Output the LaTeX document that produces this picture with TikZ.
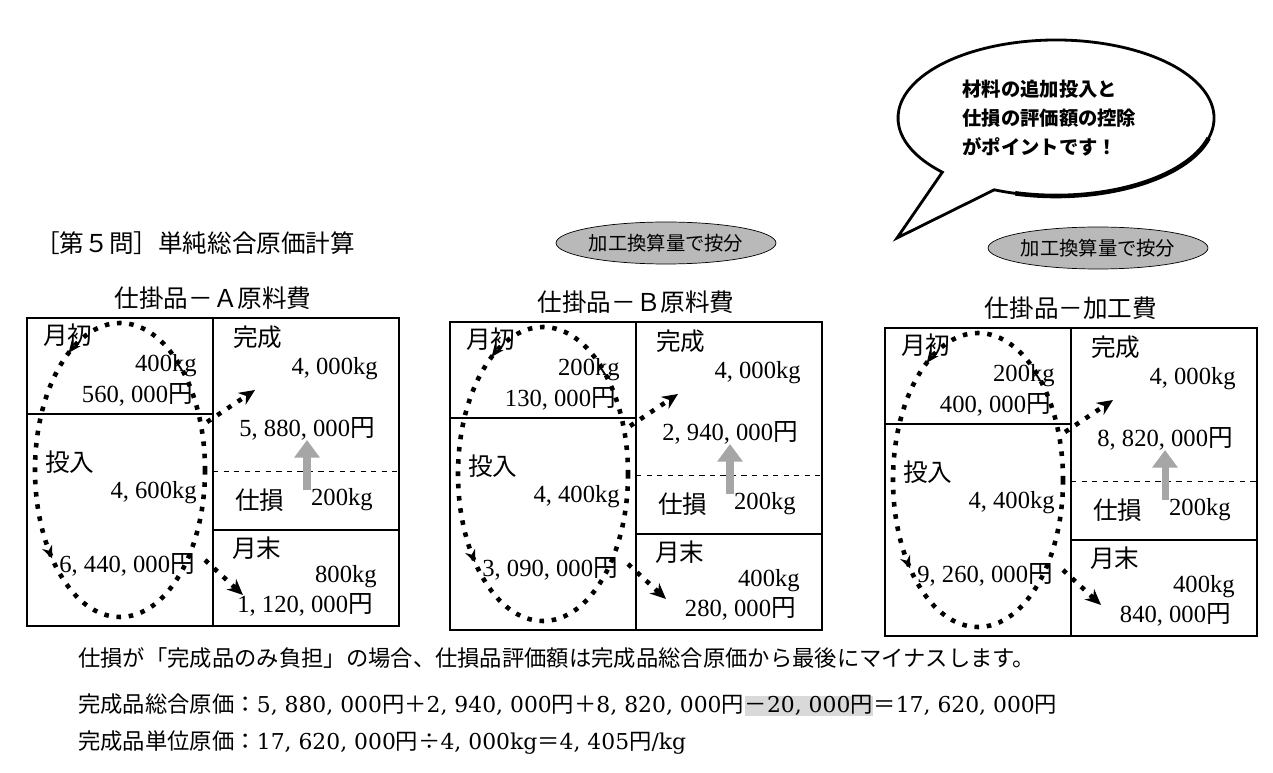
\documentclass[tikz,border=0pt]{standalone}
\usepackage{fontspec}
\setmainfont{Liberation Serif}
\newfontfamily\jp{Noto Sans CJK JP}
\newfontfamily\numfont[Scale=0.98]{DejaVu Serif}
\usetikzlibrary{arrows.meta,decorations.markings,shapes.geometric}

\newcommand\yen{{\jp 円}}
\tikzset{%
  box text/.style={font=\fontsize{14}{16}\selectfont, inner sep=0pt},
  label jp/.style={box text, font=\fontsize{14}{16}\selectfont\jp, anchor=west},
  amount/.style={box text, anchor=east},
  flow/.style={line width=2.6pt, dash pattern=on 2.6pt off 4.4pt},
  flow arrow/.style={flow, -{Stealth[length=9pt,width=8pt]}},
  loss arrow/.style={line width=4pt, gray!70, -{Triangle[length=10pt,width=14pt]}},
  memo/.style={draw, fill=gray!55, ellipse, inner sep=0pt,
    minimum width=4.4cm, minimum height=0.84cm,
    font=\fontsize{11}{12}\selectfont\jp},
  note/.style={inner sep=0pt, font=\fontsize{12.7}{14}\selectfont\numfont}
}
% one work-in-process box, drawn from its top left corner
\newcommand\shikakari[8]{%
  \node[font=\fontsize{14}{16}\selectfont\jp] (title) at (186,-20) {#1};
  \draw[line width=1.1pt] (0,0) rectangle (372,308);
  \draw[line width=0.9pt] (186,0) -- (186,308)
    (0,96) -- (186,96) (186,212) -- (372,212);
  \draw[dashed] (186,153) -- (372,153);
  \node[label jp] (begin) at (16,17) {月初};
  \node[amount] (begin kg) at (170,48) {#2kg};
  \node[amount] (begin yen) at (166,77) {#3\yen};
  \node[label jp] (input) at (18,144) {投入};
  \node[amount] (input kg) at (170,175) {#4kg};
  \node[amount] (input yen) at (168,247) {#5\yen};
  \node[label jp] (done) at (206,19) {完成};
  \node[amount] (done kg) at (351,51) {4, 000kg};
  \node[amount] (done yen) at (348,111) {#6\yen};
  \node[label jp] (loss) at (208,182) {仕損};
  \node[amount] (loss kg) at (346,182) {200kg};
  \node[label jp] (end) at (205,230) {月末};
  \node[amount] (end kg) at (350,259) {#7kg};
  \node[amount] (end yen) at (346,287) {#8\yen};
  \draw[flow, postaction={decorate}, decoration={markings,
      mark=at position 0.378 with {\arrowreversed{Stealth[length=7pt,width=6pt]}},
      mark=at position 0.667 with {\arrowreversed{Stealth[length=7pt,width=6pt]}}}]
    (93,152) ellipse [x radius=85, y radius=147];
  \coordinate (out done) at (180,104);
  \coordinate (in done) at (228,72);
  \coordinate (out end) at (178,242);
  \coordinate (in end) at (216,277);
  \coordinate (spoil) at (280,172);
  \coordinate (spoil top) at (280,122);
  \draw[flow arrow] (out done) -- (in done);
  \draw[flow arrow] (out end) -- (in end);
  \draw[loss arrow] (spoil) -- (spoil top);
}

\begin{document}
\begin{tikzpicture}[x=0.02cm, y=-0.02cm]
	\useasboundingbox (0,0) rectangle (1273,773);
	\node[anchor=west, inner sep=0pt, font=\fontsize{14}{16}\selectfont\jp] (heading) at (35,243) {［第５問］単純総合原価計算};
	% speech bubble
	\coordinate (tip) at (897,238);
	\draw[line width=1.6pt, fill=white] (tip) -- ([shift={(1056,118)}]113:158 and 78)
	  arc [start angle=113, end angle=-224, x radius=158, y radius=78] -- cycle;
	\draw[line width=2.6pt] ([shift={(1056,118)}]15:158 and 78)
	  arc [start angle=15, end angle=105, x radius=158, y radius=78];
	\node[anchor=west, align=left, inner sep=0pt, font=\fontsize{11}{16.5}\selectfont\jp\bfseries] (point) at (962,118)
	  {材料の追加投入と\\仕損の評価額の控除\\がポイントです！};
	\node[memo] (memo b) at (666,243) {加工換算量で按分};
	\node[memo] (memo c) at (1098,248) {加工換算量で按分};
	\begin{scope}[shift={(27,318)}, name prefix=a-]
	  \shikakari{仕掛品－Ａ原料費}{400}{560, 000}{4, 600}{6, 440, 000}{5, 880, 000}{800}{1, 120, 000}
	\end{scope}
	\begin{scope}[shift={(450,322)}, name prefix=b-]
	  \shikakari{仕掛品－Ｂ原料費}{200}{130, 000}{4, 400}{3, 090, 000}{2, 940, 000}{400}{280, 000}
	\end{scope}
	\begin{scope}[shift={(885,328)}, name prefix=c-]
	  \shikakari{仕掛品－加工費}{200}{400, 000}{4, 400}{9, 260, 000}{8, 820, 000}{400}{840, 000}
	\end{scope}
	% explanation below
	\node[note, anchor=west] (rule) at (78,658) {\jp 仕損が「完成品のみ負担」の場合、仕損品評価額は完成品総合原価から最後にマイナスします。};
	\node[note, anchor=west] (sum a) at (78,705) {{\jp 完成品総合原価：}5, 880, 000\yen{\jp ＋}2, 940, 000\yen{\jp ＋}8, 820, 000\yen};
	\node[note, anchor=base west, fill=gray!30] (sum b) at (sum a.base east) {{\jp －}20, 000\yen};
	\node[note, anchor=base west] (sum c) at (sum b.base east) {{\jp ＝}17, 620, 000\yen};
	\node[note, anchor=west] (unit) at (78,743) {{\jp 完成品単位原価：}17, 620, 000\yen{\jp ÷}4, 000kg{\jp ＝}4, 405\yen/kg};
\end{tikzpicture}
\end{document}
